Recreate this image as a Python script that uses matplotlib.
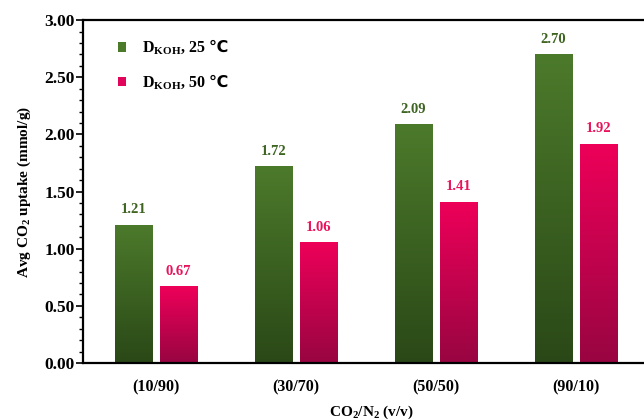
import matplotlib
matplotlib.use("Agg")
import matplotlib.pyplot as plt
import numpy as np
from matplotlib.colors import LinearSegmentedColormap
from matplotlib.patches import Patch
from matplotlib.ticker import MultipleLocator, FormatStrFormatter

categories = ["(10/90)", "(30/70)", "(50/50)", "(90/10)"]
uptake_25 = [1.21, 1.72, 2.09, 2.70]
uptake_50 = [0.67, 1.06, 1.41, 1.92]
label_25 = r"D$_{\mathrm{KOH}}$, 25 $\mathsf{℃}$"
label_50 = r"D$_{\mathrm{KOH}}$, 50 $\mathsf{℃}$"

plt.rcParams["font.family"] = ["Liberation Serif", "DejaVu Serif"]
plt.rcParams["font.weight"] = "bold"
plt.rcParams["mathtext.fontset"] = "custom"
plt.rcParams["mathtext.rm"] = "Liberation Serif:bold"
plt.rcParams["mathtext.bf"] = "Liberation Serif:bold"
plt.rcParams["mathtext.sf"] = "DejaVu Sans:bold"

green_cmap = LinearSegmentedColormap.from_list("g", ["#2a4817", "#4c7a2b"])
pink_cmap = LinearSegmentedColormap.from_list("p", ["#980541", "#ee0059"])
green_txt = "#3e6422"
pink_txt = "#e8135a"

fig = plt.figure(figsize=(6.44, 4.2), dpi=100)
ax = fig.add_axes([0.129, 0.1357, 0.896, 0.8165])

x = np.arange(len(categories))
w = 0.265
off = 0.16

grad = np.linspace(0, 1, 256).reshape(-1, 1)


def gradient_bars(xs, vals, cmap, txt_color):
    bars = ax.bar(xs, vals, w, color="none", edgecolor="none", zorder=2)
    for b, v in zip(bars, vals):
        x0 = b.get_x()
        im = ax.imshow(grad, extent=[x0, x0 + b.get_width(), 0, v], origin="lower",
                       aspect="auto", cmap=cmap, zorder=2)
        im.set_clip_path(b)
        ax.annotate(f"{v:.2f}", (b.get_x() + b.get_width() / 2, v), xytext=(0, 6),
                    textcoords="offset points", ha="center", va="bottom",
                    fontsize=10.5, fontweight="bold", color=txt_color)


gradient_bars(x - off, uptake_25, green_cmap, green_txt)
gradient_bars(x + off, uptake_50, pink_cmap, pink_txt)

ax.set_xlim(-0.52, 3.6)
ax.set_ylim(0, 3.0)
ax.set_xticks(x)
ax.set_xticklabels(categories, fontsize=11.5, fontweight="bold")
ax.yaxis.set_major_locator(MultipleLocator(0.5))
ax.yaxis.set_minor_locator(MultipleLocator(0.1))
ax.yaxis.set_major_formatter(FormatStrFormatter("%.2f"))
ax.tick_params(axis="y", labelsize=12.5)
ax.tick_params(axis="x", length=0, pad=12)
ax.tick_params(axis="y", which="major", length=5, width=1.2, pad=1)
ax.tick_params(axis="y", which="minor", length=3, width=1.0)
for s in ax.spines.values():
    s.set_linewidth(1.6)

ax.set_ylabel(r"Avg CO$_2$ uptake (mmol/g)", fontsize=11, fontweight="bold", labelpad=8)
ax.set_xlabel(r"CO$_2$/N$_2$ (v/v)", fontsize=11, fontweight="bold", labelpad=6)

handles = [Patch(facecolor="#4c7a2b"), Patch(facecolor="#e0045a")]
ax.legend(handles, [label_25, label_50], loc="upper left", bbox_to_anchor=(0.035, 0.99),
          frameon=False, handlelength=0.55, handleheight=0.55,
          handletextpad=1.0, labelspacing=0.95, prop={"weight": "bold", "size": 11.5})

fig.savefig("out.png", dpi=100)
